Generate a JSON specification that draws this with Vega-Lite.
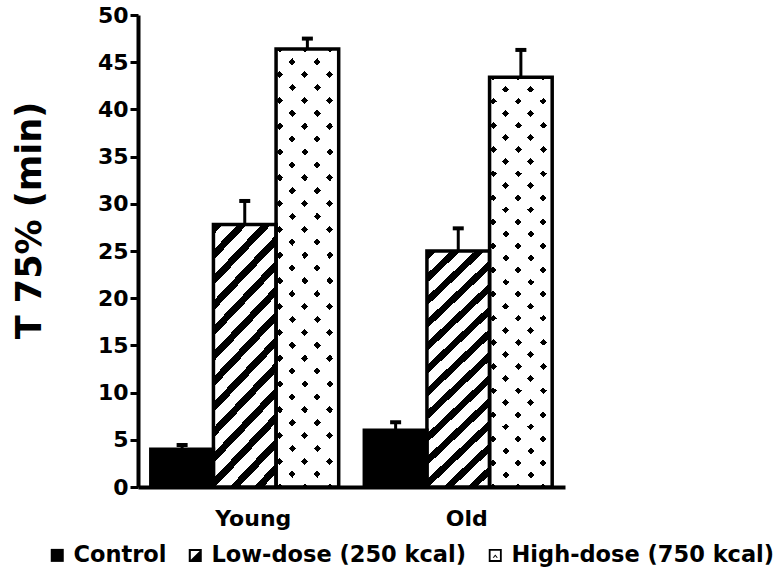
{
  "$schema": "https://vega.github.io/schema/vega-lite/v6.json",
  "autosize": "none",
  "padding": {"left": 138, "top": 15, "right": 212, "bottom": 98},
  "width": 427,
  "height": 472,
  "background": "white",
  "data": {
    "values": [
      {"age": "Young", "dose": "Control", "value": 4.0, "upper": 4.45},
      {"age": "Young", "dose": "Low-dose (250 kcal)", "value": 27.8, "upper": 30.3},
      {"age": "Young", "dose": "High-dose (750 kcal)", "value": 46.4, "upper": 47.5},
      {"age": "Old", "dose": "Control", "value": 6.0, "upper": 6.85},
      {"age": "Old", "dose": "Low-dose (250 kcal)", "value": 25.0, "upper": 27.4},
      {"age": "Old", "dose": "High-dose (750 kcal)", "value": 43.4, "upper": 46.3}
    ]
  },
  "encoding": {
    "x": {
      "field": "age", "type": "nominal", "sort": ["Young", "Old"],
      "scale": {"paddingInner": 0.12, "paddingOuter": 0.06},
      "axis": {"title": null, "ticks": false, "domainWidth": 4, "labelAngle": 0, "labelPadding": 21, "labelOffset": 8.5}
    },
    "xOffset": {
      "field": "dose", "type": "nominal",
      "sort": ["Control", "Low-dose (250 kcal)", "High-dose (750 kcal)"],
      "scale": {"paddingInner": 0, "paddingOuter": 0}
    },
    "y": {
      "field": "value", "type": "quantitative",
      "scale": {"domain": [0, 50], "nice": false},
      "axis": {
        "values": [0, 5, 10, 15, 20, 25, 30, 35, 40, 45, 50],
        "tickSize": 8, "tickWidth": 3, "domainWidth": 4, "labelPadding": 2,
        "title": "T 75% (min)", "titleFontSize": 35, "titleFontWeight": "bold", "titleFont": "DejaVu Sans",
        "titleColor": "black", "titleX": -109, "titleY": 205, "titleAngle": -90,
        "titleAlign": "center", "titleBaseline": "middle"
      }
    }
  },
  "layer": [
    {
      "mark": {"type": "bar"},
      "encoding": {
        "fill": {"condition": {"test": "datum.dose === 'Control'", "value": "black"}, "value": "white"}
      }
    },
    {
      "transform": [{"filter": "datum.dose === 'Low-dose (250 kcal)'"}],
      "mark": {
        "type": "bar",
        "fill": {
          "gradient": "linear", "x1": 0, "y1": 0, "x2": 0.327, "y2": 1.3,
          "stops": [
            {"offset": 0, "color": "black"}, {"offset": 0.028, "color": "black"}, {"offset": 0.028, "color": "white"}, {"offset": 0.07, "color": "white"},
            {"offset": 0.07, "color": "black"}, {"offset": 0.098, "color": "black"}, {"offset": 0.098, "color": "white"}, {"offset": 0.14, "color": "white"},
            {"offset": 0.14, "color": "black"}, {"offset": 0.168, "color": "black"}, {"offset": 0.168, "color": "white"}, {"offset": 0.21, "color": "white"},
            {"offset": 0.21, "color": "black"}, {"offset": 0.238, "color": "black"}, {"offset": 0.238, "color": "white"}, {"offset": 0.28, "color": "white"},
            {"offset": 0.28, "color": "black"}, {"offset": 0.308, "color": "black"}, {"offset": 0.308, "color": "white"}, {"offset": 0.35, "color": "white"},
            {"offset": 0.35, "color": "black"}, {"offset": 0.378, "color": "black"}, {"offset": 0.378, "color": "white"}, {"offset": 0.42, "color": "white"},
            {"offset": 0.42, "color": "black"}, {"offset": 0.448, "color": "black"}, {"offset": 0.448, "color": "white"}, {"offset": 0.49, "color": "white"},
            {"offset": 0.49, "color": "black"}, {"offset": 0.518, "color": "black"}, {"offset": 0.518, "color": "white"}, {"offset": 0.56, "color": "white"},
            {"offset": 0.56, "color": "black"}, {"offset": 0.588, "color": "black"}, {"offset": 0.588, "color": "white"}, {"offset": 0.63, "color": "white"},
            {"offset": 0.63, "color": "black"}, {"offset": 0.658, "color": "black"}, {"offset": 0.658, "color": "white"}, {"offset": 0.7, "color": "white"},
            {"offset": 0.7, "color": "black"}, {"offset": 0.728, "color": "black"}, {"offset": 0.728, "color": "white"}, {"offset": 0.77, "color": "white"},
            {"offset": 0.77, "color": "black"}, {"offset": 0.798, "color": "black"}, {"offset": 0.798, "color": "white"}, {"offset": 0.84, "color": "white"},
            {"offset": 0.84, "color": "black"}, {"offset": 0.868, "color": "black"}, {"offset": 0.868, "color": "white"}, {"offset": 0.91, "color": "white"},
            {"offset": 0.91, "color": "black"}, {"offset": 0.938, "color": "black"}, {"offset": 0.938, "color": "white"}, {"offset": 0.98, "color": "white"},
            {"offset": 0.98, "color": "black"}, {"offset": 1, "color": "black"}
          ]
        }
      }
    },
    {
      "transform": [{"filter": "datum.dose === 'High-dose (750 kcal)'"}],
      "mark": {
        "type": "bar",
        "fill": {
          "gradient": "linear", "x1": 0, "y1": 0, "x2": 0.177, "y2": 1.2,
          "stops": [
            {"offset": 0, "color": "black"}, {"offset": 0.0135, "color": "black"}, {"offset": 0.0135, "color": "white"}, {"offset": 0.048, "color": "white"},
            {"offset": 0.048, "color": "black"}, {"offset": 0.0615, "color": "black"}, {"offset": 0.0615, "color": "white"}, {"offset": 0.096, "color": "white"},
            {"offset": 0.096, "color": "black"}, {"offset": 0.1095, "color": "black"}, {"offset": 0.1095, "color": "white"}, {"offset": 0.144, "color": "white"},
            {"offset": 0.144, "color": "black"}, {"offset": 0.1575, "color": "black"}, {"offset": 0.1575, "color": "white"}, {"offset": 0.192, "color": "white"},
            {"offset": 0.192, "color": "black"}, {"offset": 0.2055, "color": "black"}, {"offset": 0.2055, "color": "white"}, {"offset": 0.24, "color": "white"},
            {"offset": 0.24, "color": "black"}, {"offset": 0.2535, "color": "black"}, {"offset": 0.2535, "color": "white"}, {"offset": 0.288, "color": "white"},
            {"offset": 0.288, "color": "black"}, {"offset": 0.3015, "color": "black"}, {"offset": 0.3015, "color": "white"}, {"offset": 0.336, "color": "white"},
            {"offset": 0.336, "color": "black"}, {"offset": 0.3495, "color": "black"}, {"offset": 0.3495, "color": "white"}, {"offset": 0.384, "color": "white"},
            {"offset": 0.384, "color": "black"}, {"offset": 0.3975, "color": "black"}, {"offset": 0.3975, "color": "white"}, {"offset": 0.432, "color": "white"},
            {"offset": 0.432, "color": "black"}, {"offset": 0.4455, "color": "black"}, {"offset": 0.4455, "color": "white"}, {"offset": 0.48, "color": "white"},
            {"offset": 0.48, "color": "black"}, {"offset": 0.4935, "color": "black"}, {"offset": 0.4935, "color": "white"}, {"offset": 0.528, "color": "white"},
            {"offset": 0.528, "color": "black"}, {"offset": 0.5415, "color": "black"}, {"offset": 0.5415, "color": "white"}, {"offset": 0.576, "color": "white"},
            {"offset": 0.576, "color": "black"}, {"offset": 0.5895, "color": "black"}, {"offset": 0.5895, "color": "white"}, {"offset": 0.624, "color": "white"},
            {"offset": 0.624, "color": "black"}, {"offset": 0.6375, "color": "black"}, {"offset": 0.6375, "color": "white"}, {"offset": 0.672, "color": "white"},
            {"offset": 0.672, "color": "black"}, {"offset": 0.6855, "color": "black"}, {"offset": 0.6855, "color": "white"}, {"offset": 0.72, "color": "white"},
            {"offset": 0.72, "color": "black"}, {"offset": 0.7335, "color": "black"}, {"offset": 0.7335, "color": "white"}, {"offset": 0.768, "color": "white"},
            {"offset": 0.768, "color": "black"}, {"offset": 0.7815, "color": "black"}, {"offset": 0.7815, "color": "white"}, {"offset": 0.816, "color": "white"},
            {"offset": 0.816, "color": "black"}, {"offset": 0.8295, "color": "black"}, {"offset": 0.8295, "color": "white"}, {"offset": 0.864, "color": "white"},
            {"offset": 0.864, "color": "black"}, {"offset": 0.8775, "color": "black"}, {"offset": 0.8775, "color": "white"}, {"offset": 0.912, "color": "white"},
            {"offset": 0.912, "color": "black"}, {"offset": 0.9255, "color": "black"}, {"offset": 0.9255, "color": "white"}, {"offset": 0.96, "color": "white"},
            {"offset": 0.96, "color": "black"}, {"offset": 0.9735, "color": "black"}, {"offset": 0.9735, "color": "white"}, {"offset": 1, "color": "white"}
          ]
        }
      }
    },
    {
      "transform": [{"filter": "datum.dose === 'High-dose (750 kcal)'"}],
      "mark": {
        "type": "bar",
        "fill": {
          "gradient": "linear", "x1": 0, "y1": 1, "x2": 0.177, "y2": -0.2,
          "stops": [
            {"offset": 0, "color": "rgba(255,255,255,0)"}, {"offset": 0.0135, "color": "rgba(255,255,255,0)"}, {"offset": 0.0135, "color": "white"}, {"offset": 0.048, "color": "white"},
            {"offset": 0.048, "color": "rgba(255,255,255,0)"}, {"offset": 0.0615, "color": "rgba(255,255,255,0)"}, {"offset": 0.0615, "color": "white"}, {"offset": 0.096, "color": "white"},
            {"offset": 0.096, "color": "rgba(255,255,255,0)"}, {"offset": 0.1095, "color": "rgba(255,255,255,0)"}, {"offset": 0.1095, "color": "white"}, {"offset": 0.144, "color": "white"},
            {"offset": 0.144, "color": "rgba(255,255,255,0)"}, {"offset": 0.1575, "color": "rgba(255,255,255,0)"}, {"offset": 0.1575, "color": "white"}, {"offset": 0.192, "color": "white"},
            {"offset": 0.192, "color": "rgba(255,255,255,0)"}, {"offset": 0.2055, "color": "rgba(255,255,255,0)"}, {"offset": 0.2055, "color": "white"}, {"offset": 0.24, "color": "white"},
            {"offset": 0.24, "color": "rgba(255,255,255,0)"}, {"offset": 0.2535, "color": "rgba(255,255,255,0)"}, {"offset": 0.2535, "color": "white"}, {"offset": 0.288, "color": "white"},
            {"offset": 0.288, "color": "rgba(255,255,255,0)"}, {"offset": 0.3015, "color": "rgba(255,255,255,0)"}, {"offset": 0.3015, "color": "white"}, {"offset": 0.336, "color": "white"},
            {"offset": 0.336, "color": "rgba(255,255,255,0)"}, {"offset": 0.3495, "color": "rgba(255,255,255,0)"}, {"offset": 0.3495, "color": "white"}, {"offset": 0.384, "color": "white"},
            {"offset": 0.384, "color": "rgba(255,255,255,0)"}, {"offset": 0.3975, "color": "rgba(255,255,255,0)"}, {"offset": 0.3975, "color": "white"}, {"offset": 0.432, "color": "white"},
            {"offset": 0.432, "color": "rgba(255,255,255,0)"}, {"offset": 0.4455, "color": "rgba(255,255,255,0)"}, {"offset": 0.4455, "color": "white"}, {"offset": 0.48, "color": "white"},
            {"offset": 0.48, "color": "rgba(255,255,255,0)"}, {"offset": 0.4935, "color": "rgba(255,255,255,0)"}, {"offset": 0.4935, "color": "white"}, {"offset": 0.528, "color": "white"},
            {"offset": 0.528, "color": "rgba(255,255,255,0)"}, {"offset": 0.5415, "color": "rgba(255,255,255,0)"}, {"offset": 0.5415, "color": "white"}, {"offset": 0.576, "color": "white"},
            {"offset": 0.576, "color": "rgba(255,255,255,0)"}, {"offset": 0.5895, "color": "rgba(255,255,255,0)"}, {"offset": 0.5895, "color": "white"}, {"offset": 0.624, "color": "white"},
            {"offset": 0.624, "color": "rgba(255,255,255,0)"}, {"offset": 0.6375, "color": "rgba(255,255,255,0)"}, {"offset": 0.6375, "color": "white"}, {"offset": 0.672, "color": "white"},
            {"offset": 0.672, "color": "rgba(255,255,255,0)"}, {"offset": 0.6855, "color": "rgba(255,255,255,0)"}, {"offset": 0.6855, "color": "white"}, {"offset": 0.72, "color": "white"},
            {"offset": 0.72, "color": "rgba(255,255,255,0)"}, {"offset": 0.7335, "color": "rgba(255,255,255,0)"}, {"offset": 0.7335, "color": "white"}, {"offset": 0.768, "color": "white"},
            {"offset": 0.768, "color": "rgba(255,255,255,0)"}, {"offset": 0.7815, "color": "rgba(255,255,255,0)"}, {"offset": 0.7815, "color": "white"}, {"offset": 0.816, "color": "white"},
            {"offset": 0.816, "color": "rgba(255,255,255,0)"}, {"offset": 0.8295, "color": "rgba(255,255,255,0)"}, {"offset": 0.8295, "color": "white"}, {"offset": 0.864, "color": "white"},
            {"offset": 0.864, "color": "rgba(255,255,255,0)"}, {"offset": 0.8775, "color": "rgba(255,255,255,0)"}, {"offset": 0.8775, "color": "white"}, {"offset": 0.912, "color": "white"},
            {"offset": 0.912, "color": "rgba(255,255,255,0)"}, {"offset": 0.9255, "color": "rgba(255,255,255,0)"}, {"offset": 0.9255, "color": "white"}, {"offset": 0.96, "color": "white"},
            {"offset": 0.96, "color": "rgba(255,255,255,0)"}, {"offset": 0.9735, "color": "rgba(255,255,255,0)"}, {"offset": 0.9735, "color": "white"}, {"offset": 1, "color": "white"}
          ]
        }
      }
    },
    {
      "mark": {"type": "bar", "fillOpacity": 0, "stroke": "black", "strokeWidth": 3.5}
    },
    {
      "mark": {"type": "rule", "color": "black", "strokeWidth": 3},
      "encoding": {"y2": {"field": "upper"}}
    },
    {
      "mark": {"type": "tick", "orient": "horizontal", "color": "black", "size": 11, "thickness": 4, "opacity": 1},
      "encoding": {"y": {"field": "upper", "type": "quantitative"}}
    },
    {
      "mark": {"type": "point", "filled": true, "fill": "black", "opacity": 0, "strokeWidth": 0},
      "encoding": {
        "shape": {
          "field": "dose", "type": "nominal",
          "scale": {
            "domain": ["Control", "Low-dose (250 kcal)", "High-dose (750 kcal)"],
            "range": [
              "M-1,-1H1V1H-1Z",
              "M-1,-1H1V1H-1Z M-0.68,-0.68L-0.68,0.68L0.68,-0.68Z",
              "M-1,-1H1V1H-1Z M-0.72,-0.72V0.72H0.72V-0.72Z M-0.4,0.35L0,-0.15L0.4,0.35L0.2,0.35L0,0.08L-0.2,0.35Z"
            ]
          },
          "legend": {
            "title": null, "orient": "none", "direction": "horizontal",
            "legendX": -92, "legendY": 529,
            "symbolSize": 169, "symbolOpacity": 1, "symbolFillColor": "black", "symbolStrokeWidth": 0,
            "labelFont": "DejaVu Sans", "labelFontWeight": "bold", "labelFontSize": 22.5, "labelColor": "black",
            "labelLimit": 500, "labelOffset": 5, "columnPadding": 17
          }
        }
      }
    }
  ],
  "config": {
    "font": "DejaVu Sans",
    "view": {"stroke": null},
    "axis": {
      "grid": false, "domainColor": "black", "tickColor": "black",
      "labelColor": "black", "labelFont": "DejaVu Sans", "labelFontWeight": "bold", "labelFontSize": 22
    }
  }
}
